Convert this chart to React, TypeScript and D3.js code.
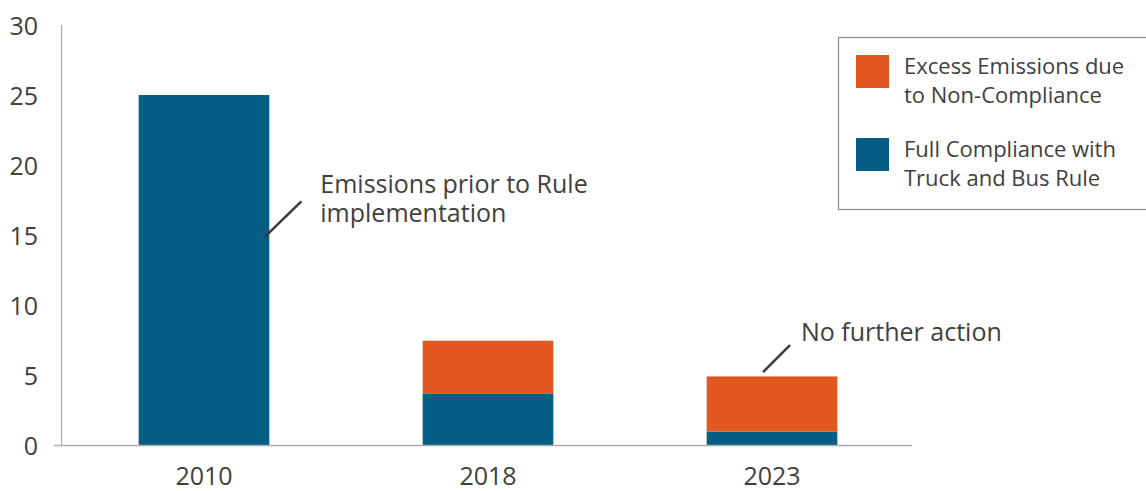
import React from "react";
import * as d3 from "d3";

const years = ["2010", "2018", "2023"];
const fullCompliance = [25, 3.65, 0.95];
const excessEmissions = [0, 3.8, 3.95];
const yTicks = [0, 5, 10, 15, 20, 25, 30];
const legendItems = [
  { key: "excess", lines: ["Excess Emissions due", "to Non-Compliance"] },
  { key: "full", lines: ["Full Compliance with", "Truck and Bus Rule"] },
];
const annotations = [
  { year: "2010", value: 14.9, lines: ["Emissions prior to Rule", "implementation"] },
  { year: "2023", value: 5.2, lines: ["No further action"] },
];

const W = 1146;
const H = 491;
const BLUE = "#065E87";
const ORANGE = "#E25620";
const TEXT = "#404040";
const AXIS = "#ABABAB";
const FONT = "'Open Sans', 'Noto Sans', sans-serif";

export default function App() {
  const x = d3
    .scaleBand<string>()
    .domain(years)
    .range([62, 914])
    .paddingInner(0.54)
    .paddingOuter(0.27);
  const y = d3.scaleLinear().domain([0, 30]).range([445, 25]);
  const bw = x.bandwidth();

  const stackData = years.map((yr, i) => ({
    year: yr,
    full: fullCompliance[i],
    excess: excessEmissions[i],
  }));
  const stack = d3.stack<any>().keys(["full", "excess"])(stackData);
  const colors: Record<string, string> = { full: BLUE, excess: ORANGE };

  return (
    <svg
      width={W}
      height={H}
      style={{ position: "absolute", left: 0, top: 0, background: "#fff" }}
      fontFamily={FONT}
    >
      {stack.map((layer) => (
        <g key={layer.key} fill={colors[layer.key]}>
          {layer.map((d, i) =>
            d[1] - d[0] > 0 ? (
              <rect
                key={i}
                x={x(years[i])}
                y={y(d[1])}
                width={bw}
                height={y(d[0]) - y(d[1])}
              />
            ) : null
          )}
        </g>
      ))}

      <line x1={61.5} x2={61.5} y1={y(30)} y2={y(0)} stroke={AXIS} strokeWidth={1.2} />
      <line x1={54} x2={912} y1={y(0) + 0.5} y2={y(0) + 0.5} stroke={AXIS} strokeWidth={1.5} />

      {yTicks.map((t) => (
        <text
          key={t}
          x={38}
          y={y(t)}
          textAnchor="end"
          dominantBaseline="central"
          fontSize={25}
          fill={TEXT}
        >
          {t}
        </text>
      ))}

      {years.map((yr) => (
        <text
          key={yr}
          x={(x(yr) as number) + bw / 2}
          y={485}
          textAnchor="middle"
          fontSize={25}
          fill={TEXT}
        >
          {yr}
        </text>
      ))}

      {annotations.map((a, i) => {
        const bx = x(a.year) as number;
        const isSide = i === 0;
        const x0 = isSide ? bx + bw - 4 : bx + bw / 2 - 9;
        const y0 = y(a.value);
        const x1 = isSide ? x0 + 36 : x0 + 27;
        const y1 = isSide ? y0 - 35 : y0 - 27;
        const tx = isSide ? x1 + 19 : x1 + 11;
        const ty = isSide ? 192.5 : 341;
        return (
          <g key={i}>
            <line x1={x0} y1={y0} x2={x1} y2={y1} stroke="#3a3a3a" strokeWidth={2.5} />
            {a.lines.map((l, j) => (
              <text key={j} x={tx} y={ty + j * 29} fontSize={25} fill={TEXT}>
                {l}
              </text>
            ))}
          </g>
        );
      })}

      <rect x={838.5} y={37.5} width={320} height={172} fill="#fff" stroke="#8c8c8c" strokeWidth={1.2} />
      {legendItems.map((it, i) => (
        <g key={it.key}>
          <rect x={856} y={55 + i * 83} width={33} height={33} fill={colors[it.key]} />
          {it.lines.map((l, j) => (
            <text key={j} x={904} y={74 + i * 83 + j * 29} fontSize={22} fill={TEXT}>
              {l}
            </text>
          ))}
        </g>
      ))}
    </svg>
  );
}
